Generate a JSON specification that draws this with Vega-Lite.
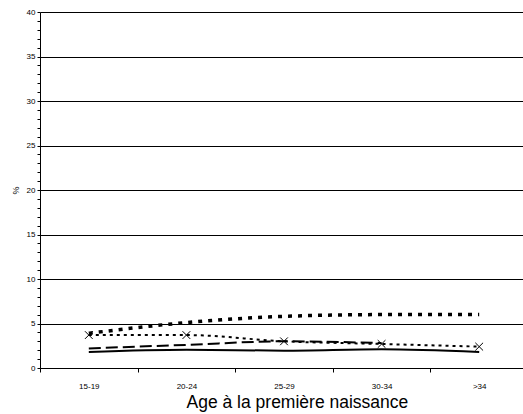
{
  "$schema": "https://vega.github.io/schema/vega-lite/v6.json",
  "autosize": "none",
  "padding": {"left": 40, "top": 12, "right": 0, "bottom": 46},
  "width": 488,
  "height": 356,
  "background": "white",
  "config": {
    "font": "Liberation Sans",
    "view": {"stroke": null}
  },
  "data": {
    "values": [
      {"age": "15-19", "s": "A", "v": 3.9},
      {"age": "20-24", "s": "A", "v": 5.1},
      {"age": "25-29", "s": "A", "v": 5.8},
      {"age": "30-34", "s": "A", "v": 6.0},
      {"age": ">34", "s": "A", "v": 6.0},
      {"age": "15-19", "s": "B", "v": 3.7},
      {"age": "20-24", "s": "B", "v": 3.7},
      {"age": "25-29", "s": "B", "v": 3.0},
      {"age": "30-34", "s": "B", "v": 2.7},
      {"age": ">34", "s": "B", "v": 2.4},
      {"age": "15-19", "s": "C", "v": 2.2},
      {"age": "20-24", "s": "C", "v": 2.6},
      {"age": "25-29", "s": "C", "v": 3.0},
      {"age": "30-34", "s": "C", "v": 2.8},
      {"age": "15-19", "s": "D", "v": 1.8},
      {"age": "20-24", "s": "D", "v": 2.05},
      {"age": "25-29", "s": "D", "v": 1.95},
      {"age": "30-34", "s": "D", "v": 2.1},
      {"age": ">34", "s": "D", "v": 1.8}
    ]
  },
  "encoding": {
    "x": {
      "field": "age", "type": "nominal",
      "sort": ["15-19", "20-24", "25-29", "30-34", ">34"],
      "scale": {"paddingInner": 0, "paddingOuter": 0},
      "axis": {
        "title": "Age à la première naissance",
        "titleFont": "Liberation Sans", "titleFontSize": 17.5, "titleFontWeight": "normal", "titleColor": "black",
        "titlePadding": 3,
        "labelAngle": 0, "labelFontSize": 8, "labelColor": "black", "labelPadding": 10,
        "tickBand": "extent", "tickSize": 4, "tickColor": "black",
        "domainColor": "black", "grid": false,
        "titleAnchor": "start", "titleX": 146
      }
    },
    "y": {
      "field": "v", "type": "quantitative",
      "scale": {"domain": [0, 40], "nice": false},
      "axis": {
        "title": "%", "titleFontSize": 9, "titleFontWeight": "normal", "titleColor": "black",
        "titlePadding": 6,
        "values": [0,1,2,3,4,5,6,7,8,9,10,11,12,13,14,15,16,17,18,19,20,21,22,23,24,25,26,27,28,29,30,31,32,33,34,35,36,37,38,39,40],
        "labelExpr": "datum.value % 5 === 0 ? datum.label : ''",
        "labelFontSize": 8, "labelColor": "black", "labelPadding": 2,
        "tickSize": 3, "tickColor": "black", "domainColor": "black",
        "grid": true, "gridColor": "black",
        "gridOpacity": {"condition": {"test": "datum.value % 5 === 0", "value": 1}, "value": 0}
      }
    }
  },
  "layer": [
    {
      "transform": [{"filter": "datum.s === 'A'"}],
      "mark": {"type": "line", "color": "black", "strokeWidth": 3.5, "strokeDash": [4, 6], "interpolate": "monotone"}
    },
    {
      "transform": [{"filter": "datum.s === 'B'"}],
      "mark": {"type": "line", "color": "black", "strokeWidth": 2, "strokeDash": [3, 4], "interpolate": "monotone"}
    },
    {
      "transform": [{"filter": "datum.s === 'C'"}],
      "mark": {"type": "line", "color": "black", "strokeWidth": 2, "strokeDash": [12, 5], "interpolate": "monotone"}
    },
    {
      "transform": [{"filter": "datum.s === 'D'"}],
      "mark": {"type": "line", "color": "black", "strokeWidth": 2, "interpolate": "monotone"}
    },
    {
      "transform": [{"filter": "datum.s === 'B'"}],
      "mark": {"type": "point", "shape": "M-1,-1L1,1M-1,1L1,-1", "size": 60, "stroke": "black", "strokeWidth": 1, "filled": false, "opacity": 1}
    }
  ]
}
